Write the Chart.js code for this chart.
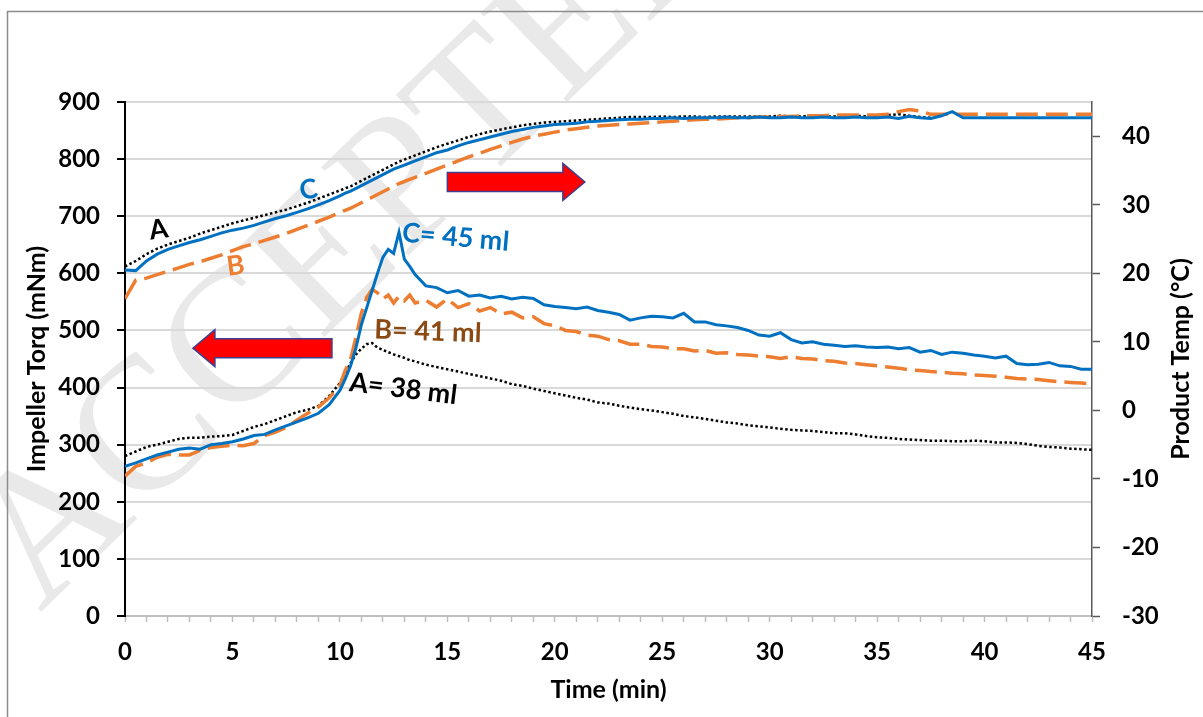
<!DOCTYPE html>
<html>
<head>
<meta charset="utf-8">
<title>Impeller torque and product temperature</title>
<script src="https://cdn.jsdelivr.net/npm/chart.js@4.4.1/dist/chart.umd.min.js"></script>
<style>
  html, body { margin: 0; padding: 0; background: #fff; }
  #wrap { width: 1203px; height: 717px; position: relative; }
</style>
</head>
<body>
<div id="wrap"><canvas id="chart"></canvas></div>
<script>
// time axis (min)
const times = [
  0, 0.5, 1, 1.5, 2, 2.5, 3, 3.5, 4, 4.5, 5, 5.5, 6, 6.5, 7, 7.5, 8, 8.5, 9, 9.5,
  10, 10.25, 10.5, 10.75, 11, 11.25, 11.5, 11.75, 12, 12.25, 12.5, 12.75, 13, 13.25, 13.5,
  14, 14.5, 15, 15.5, 16, 16.5, 17, 17.5, 18, 18.5,
  19, 19.5, 20, 20.5, 21, 21.5, 22, 22.5, 23, 23.5,
  24, 24.5, 25, 25.5, 26, 26.5, 27, 27.5, 28, 28.5,
  29, 29.5, 30, 30.5, 31, 31.5, 32, 32.5, 33, 33.5,
  34, 34.5, 35, 35.5, 36, 36.5, 37, 37.5, 38, 38.5,
  39, 39.5, 40, 40.5, 41, 41.5, 42, 42.5, 43, 43.5,
  44, 44.5, 45
];

// impeller torque (mNm), left axis
const torqueA = [
  280, 288, 296, 300, 305, 310, 312, 312, 314, 315, 317, 324, 331, 336, 343, 350, 357, 361, 368, 385,
  408, 425, 443, 458, 468, 476, 478, 470, 466, 462, 458, 455, 452, 448, 446,
  440, 436, 432, 428, 424, 420, 416, 412, 406, 403,
  398, 394, 390, 386, 382, 379, 374, 372, 368, 365,
  362, 360, 357, 354, 350, 348, 345, 342, 339, 337,
  334, 332, 330, 328, 326, 325, 324, 322, 320, 320,
  318, 315, 313, 312, 310, 309, 308, 307, 307, 306,
  306, 307, 306, 304, 304, 303, 301, 298, 296, 295,
  293, 292, 291
];
const torqueB = [
  245, 262, 268, 278, 283, 282, 282, 290, 295, 297, 299, 298, 302, 316, 322, 330, 343, 355, 366, 382,
  404, 430, 450, 488, 530, 558, 572, 566, 555, 562, 548, 560, 552, 562, 548,
  553, 541, 555, 540, 547, 534, 540, 529, 532, 522,
  524, 512, 508, 500, 498, 492, 490, 484, 482, 476,
  476, 472, 471, 468, 468, 464, 465, 460, 461, 458,
  457, 455, 454, 451, 454, 451, 450, 447, 446, 443,
  442, 440, 438, 436, 434, 431, 430, 428, 427, 425,
  424, 422, 421, 420, 418, 416, 415, 414, 412, 410,
  409, 408, 406
];
const torqueC = [
  262, 268, 275, 282, 287, 292, 294, 292, 300, 302, 305, 310, 316, 318, 326, 333, 340, 347, 355, 370,
  395, 415, 438, 470, 510, 540, 570, 600, 628, 642, 635, 672, 625, 612, 598,
  578, 575, 566, 570, 560, 562, 557, 560, 555, 558,
  556, 545, 542, 540, 538, 541, 535, 532, 528, 518,
  522, 525, 524, 522, 530, 515, 515, 510, 508, 505,
  500, 492, 490, 496, 484, 478, 480, 476, 474, 472,
  473, 471, 470, 471, 468, 470, 462, 465, 458, 462,
  460, 457, 455, 452, 455, 442, 440, 441, 444, 438,
  437, 432, 432
];

// product temperature (°C), right axis
const tempA = [
  21.0, 21.8, 22.8, 23.6, 24.2, 24.7, 25.2, 25.8, 26.3, 26.8, 27.3, 27.7, 28.1, 28.5, 28.9, 29.3, 29.8, 30.3, 30.9, 31.5,
  32.1, 32.4, 32.7, 33.1, 33.5, 33.9, 34.3, 34.7, 35.1, 35.5, 35.9, 36.3, 36.6, 36.9, 37.2,
  37.8, 38.4, 38.9, 39.4, 39.9, 40.3, 40.7, 41.0, 41.3, 41.6,
  41.8, 42.0, 42.1, 42.2, 42.3, 42.4, 42.5, 42.6, 42.7, 42.8,
  42.8, 42.8, 42.9, 42.8, 42.9, 42.9, 42.8, 42.9, 42.9, 42.9,
  42.9, 42.9, 42.9, 43.0, 42.9, 42.9, 43.0, 42.9, 42.9, 43.0,
  43.0, 42.9, 43.0, 43.1, 43.2, 43.0, 42.8, 42.7, null, null,
  null, null, null, null, null, null, null, null, null, null,
  null, null, null
];
const tempB = [
  16.3, 19.0, 19.3, 19.8, 20.3, 20.8, 21.3, 21.7, 22.2, 22.7, 23.3, 23.9, 24.3, 24.8, 25.3, 25.8, 26.4, 27.0, 27.6, 28.2,
  28.9, 29.2, 29.5, 29.9, 30.3, 30.7, 31.1, 31.5, 31.9, 32.3, 32.7, 33.1, 33.4, 33.7, 34.0,
  34.6, 35.2, 35.8, 36.4, 37.0, 37.5, 38.1, 38.6, 39.1, 39.6,
  40.0, 40.3, 40.6, 40.9, 41.1, 41.3, 41.5, 41.6, 41.7, 41.8,
  41.9, 42.0, 42.1, 42.2, 42.3, 42.4, 42.5, 42.5, 42.6, 42.7,
  42.7, 42.8, 42.8, 42.9, 42.9, 43.0, 43.0, 43.0, 43.1, 43.1,
  43.1, 43.1, 43.1, 43.2, 43.6, 43.9, 43.7, 43.2, 43.2, 43.2,
  43.2, 43.2, 43.2, 43.2, 43.2, 43.2, 43.2, 43.2, 43.2, 43.2,
  43.2, 43.2, 43.2
];
const tempC = [
  20.5, 20.4, 21.8, 22.8, 23.5, 24.0, 24.5, 24.9, 25.4, 25.9, 26.3, 26.6, 27.0, 27.5, 28.0, 28.4, 28.9, 29.4, 30.0, 30.6,
  31.3, 31.7, 32.0, 32.4, 32.8, 33.2, 33.6, 34.0, 34.4, 34.8, 35.2, 35.5, 35.8, 36.1, 36.4,
  37.0, 37.6, 38.0, 38.6, 39.1, 39.5, 39.9, 40.3, 40.7, 41.0,
  41.3, 41.5, 41.7, 41.8, 41.9, 42.1, 42.2, 42.3, 42.4, 42.5,
  42.5, 42.6, 42.6, 42.7, 42.6, 42.7, 42.7, 42.7, 42.8, 42.7,
  42.7, 42.8, 42.7, 42.7, 42.8, 42.7, 42.7, 42.8, 42.7, 42.7,
  42.8, 42.7, 42.7, 42.8, 42.6, 42.9, 42.7, 42.6, 43.0, 43.6,
  42.7, 42.7, 42.7, 42.7, 42.7, 42.7, 42.7, 42.7, 42.7, 42.7,
  42.7, 42.7, 42.7
];

const xTicks = [0, 5, 10, 15, 20, 25, 30, 35, 40, 45];

// text on the plot: [text, time, torque, colour, angle(deg)]
const notes = [
  ["A", 1.5, 676, "#000000", -8],
  ["B", 5.1, 613, "#ED7D31", -8],
  ["C", 8.5, 746, "#0070C0", -10],
  ["C= 45 ml", 12.9, 671, "#0070C0", 5],
  ["B= 41 ml", 11.6, 501, "#8B4A14", 2],
  ["A= 38 ml", 10.45, 409, "#000000", 7]
];
// red arrows: [tail time, tip time, torque level]
const arrows = [
  [9.63, 3.16, 469],
  [15.0, 21.4, 760]
];

const FONT = "Lato, 'Open Sans', sans-serif";

function pts(ys) {
  return times.map((t, i) => ({ x: t, y: ys[i] }));
}

function drawArrow(ctx, x0, x1, y) {
  const dir = x1 > x0 ? 1 : -1;
  const headL = 22, headH = 18.5, bodyH = 9.5;
  const hb = x1 - dir * headL;
  ctx.beginPath();
  ctx.moveTo(x0, y - bodyH);
  ctx.lineTo(hb, y - bodyH);
  ctx.lineTo(hb, y - headH);
  ctx.lineTo(x1, y);
  ctx.lineTo(hb, y + headH);
  ctx.lineTo(hb, y + bodyH);
  ctx.lineTo(x0, y + bodyH);
  ctx.closePath();
  ctx.fillStyle = "#ff0000";
  ctx.fill();
  ctx.strokeStyle = "#3f3f8f";
  ctx.lineWidth = 1.5;
  ctx.stroke();
}

const extras = {
  id: "extras",
  beforeDraw(chart) {
    const ctx = chart.ctx;
    ctx.save();
    // faint watermark
    ctx.translate(40, 613);
    ctx.rotate(-0.77);
    ctx.font = "190px 'Liberation Serif', serif";
    ctx.fillStyle = "rgba(0,0,0,0.085)";
    ctx.textBaseline = "alphabetic";
    ctx.fillText("ACCEPTED MANUSCRIPT", 0, 0);
    ctx.restore();
    // frame
    ctx.save();
    ctx.strokeStyle = "#8c8c8c";
    ctx.lineWidth = 1.5;
    ctx.beginPath();
    ctx.moveTo(7.5, 717);
    ctx.lineTo(7.5, 11.5);
    ctx.lineTo(1203, 11.5);
    ctx.stroke();
    ctx.restore();
  },
  afterDatasetsDraw(chart) {
    const ctx = chart.ctx;
    const xs = chart.scales.x, ys = chart.scales.y;
    ctx.save();
    arrows.forEach(([a, b, v]) => {
      drawArrow(ctx, xs.getPixelForValue(a), xs.getPixelForValue(b), ys.getPixelForValue(v));
    });
    ctx.font = "bold 27px " + FONT;
    ctx.textBaseline = "middle";
    ctx.textAlign = "left";
    notes.forEach(([txt, t, v, col, ang]) => {
      ctx.save();
      ctx.translate(xs.getPixelForValue(t), ys.getPixelForValue(v));
      ctx.rotate(ang * Math.PI / 180);
      ctx.fillStyle = col;
      ctx.fillText(txt, txt.length === 1 ? -8 : 0, 0);
      ctx.restore();
    });
    ctx.restore();
  },
  afterDraw(chart) {
    const ctx = chart.ctx;
    const area = chart.chartArea;
    const mid = (area.top + area.bottom) / 2;
    ctx.save();
    ctx.fillStyle = "#000";
    ctx.font = "bold 25px " + FONT;
    ctx.textAlign = "center";
    ctx.textBaseline = "middle";
    ctx.fillText("Time (min)", (area.left + area.right) / 2, 690);
    ctx.translate(37, mid);
    ctx.rotate(-Math.PI / 2);
    ctx.fillText("Impeller Torq (mNm)", 0, 0);
    ctx.restore();
    ctx.save();
    ctx.fillStyle = "#000";
    ctx.font = "bold 25px " + FONT;
    ctx.textAlign = "center";
    ctx.textBaseline = "middle";
    ctx.translate(1181, mid);
    ctx.rotate(-Math.PI / 2);
    ctx.fillText("Product Temp (°C)", 0, 0);
    ctx.restore();
  }
};

new Chart(document.getElementById("chart"), {
  type: "line",
  data: {
    datasets: [
      { label: "A torque", data: pts(torqueA), yAxisID: "y", borderColor: "#000", borderWidth: 2.5, borderDash: [2.5, 2.5], order: 2 },
      { label: "B torque", data: pts(torqueB), yAxisID: "y", borderColor: "#ED7D31", borderWidth: 3.5, borderDash: [22, 8], order: 1 },
      { label: "C torque", data: pts(torqueC), yAxisID: "y", borderColor: "#0070C0", borderWidth: 3, order: 0 },
      { label: "A temp", data: pts(tempA), yAxisID: "y1", borderColor: "#000", borderWidth: 2.5, borderDash: [2.5, 2.5], order: 2 },
      { label: "B temp", data: pts(tempB), yAxisID: "y1", borderColor: "#ED7D31", borderWidth: 3.5, borderDash: [22, 8], order: 1 },
      { label: "C temp", data: pts(tempC), yAxisID: "y1", borderColor: "#0070C0", borderWidth: 3, order: 0 }
    ]
  },
  options: {
    responsive: true,
    maintainAspectRatio: false,
    animation: false,
    devicePixelRatio: 1,
    layout: { padding: { top: 102, left: 0, right: 0, bottom: 0 } },
    elements: { point: { radius: 0 }, line: { tension: 0, fill: false } },
    plugins: { legend: { display: false }, tooltip: { enabled: false } },
    scales: {
      x: {
        type: "linear",
        min: 0,
        max: 45,
        afterFit: (s) => { s.height = 101; },
        border: { color: "#bfbfbf", width: 2 },
        grid: { drawOnChartArea: false, tickLength: 6, tickColor: "#bfbfbf", tickWidth: 1.5 },
        ticks: {
          stepSize: 1,
          autoSkip: false,
          maxRotation: 0,
          padding: 16,
          color: "#000",
          font: { family: FONT, size: 24, weight: "bold" },
          callback: (v) => (xTicks.includes(v) ? String(v) : "")
        }
      },
      y: {
        position: "left",
        min: 0,
        max: 900,
        afterFit: (s) => { s.width = 125; },
        border: { color: "#000", width: 2 },
        grid: { color: "#d9d9d9", lineWidth: 2, tickColor: "#000", tickLength: 8, tickWidth: 2 },
        ticks: { stepSize: 100, padding: 17, color: "#000", font: { family: FONT, size: 24, weight: "bold" } }
      },
      y1: {
        position: "right",
        min: -30,
        max: 45,
        afterFit: (s) => { s.width = 111; },
        afterBuildTicks: (s) => { s.ticks = s.ticks.filter((t) => t.value <= 40); },
        border: { color: "#595959", width: 1.5 },
        grid: { drawOnChartArea: false, tickColor: "#595959", tickLength: 8, tickWidth: 1.5 },
        ticks: { stepSize: 10, padding: 22, color: "#000", font: { family: FONT, size: 24, weight: "bold" } }
      }
    }
  },
  plugins: [extras]
});
</script>
</body>
</html>
